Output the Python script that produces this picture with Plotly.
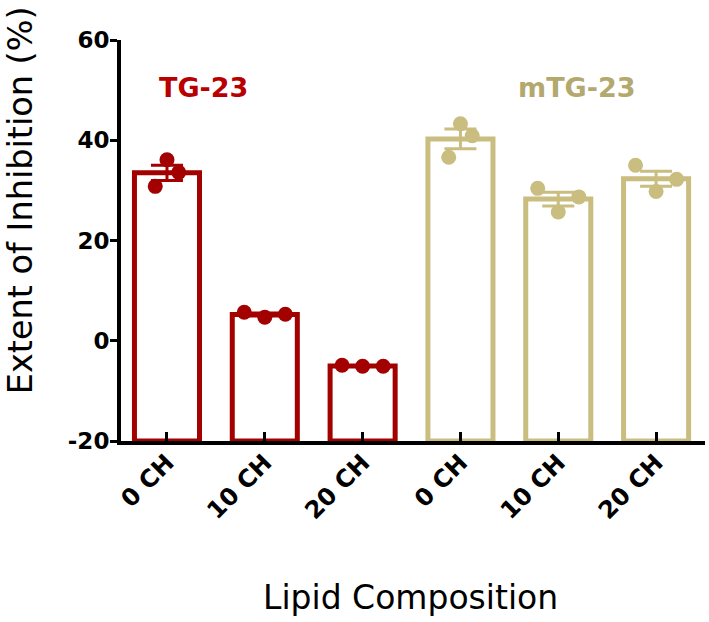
import numpy as np
import plotly.graph_objects as go

categories = ["0 CH", "10 CH", "20 CH", "0 CH", "10 CH", "20 CH"]
group_labels = ["TG-23", "mTG-23"]

# replicate values (%) per category, ordered left / middle / right as plotted
tg23_points = [[30.8, 36.1, 33.6], [5.7, 4.7, 5.3], [-4.9, -5.1, -5.1]]
mtg23_points = [[36.6, 43.3, 40.9], [30.4, 25.7, 28.7], [35.0, 29.8, 32.2]]

y_tickvals = [-20, 0, 20, 40, 60]
y_ticktext = ["-20", "0", "20", "40", "60"]

RED = "#A30000"
TAN = "#C9BD7F"
RED_TXT = "#B80000"
TAN_TXT = "#B3A86E"
point_spread = [0.12, 0.21, 0.21, 0.12, 0.21, 0.21]
BASE = -20

fig = go.Figure()

all_points = tg23_points + mtg23_points
colors = [RED] * 3 + [TAN] * 3

for i, (pts, col) in enumerate(zip(all_points, colors)):
    pts = np.array(pts)
    mean = pts.mean()
    sem = pts.std(ddof=1) / np.sqrt(len(pts))
    s = point_spread[i]
    fig.add_trace(go.Bar(
        x=[i], y=[mean - BASE], base=[BASE], width=0.665,
        marker=dict(color="white", line=dict(color=col, width=5)),
        showlegend=False,
    ))
    fig.add_trace(go.Scatter(
        x=[i - s, i, i + s], y=pts, mode="markers",
        marker=dict(color=col, size=15), showlegend=False,
    ))
    fig.add_trace(go.Scatter(
        x=[i], y=[mean], mode="markers",
        marker=dict(color=col, size=1, opacity=0),
        error_y=dict(type="data", array=[sem], color=col, thickness=3, width=16),
        showlegend=False,
    ))

fig.add_annotation(x=0.37, y=50.6, text="<b>" + group_labels[0] + "</b>", showarrow=False,
                   font=dict(family="DejaVu Sans", size=27, color=RED_TXT))
fig.add_annotation(x=4.19, y=50.6, text="<b>" + group_labels[1] + "</b>", showarrow=False,
                   font=dict(family="DejaVu Sans", size=27, color=TAN_TXT))

# axis titles
fig.add_annotation(xref="paper", yref="paper", x=-0.171, y=0.601, xanchor="center", yanchor="middle",
                   text="Extent of Inhibition (%)", textangle=-90, showarrow=False,
                   font=dict(family="DejaVu Sans", size=33.5, color="black"))
fig.add_annotation(xref="paper", yref="paper", x=0.495, y=-0.39, xanchor="center", yanchor="middle",
                   text="Lipid Composition", showarrow=False,
                   font=dict(family="DejaVu Sans", size=33, color="black"))

fig.update_layout(
    width=709, height=622,
    margin=dict(l=121, r=4, t=40, b=181),
    paper_bgcolor="white", plot_bgcolor="white",
    barmode="overlay",
    xaxis=dict(
        range=[-0.47, 5.5], tickvals=list(range(6)), ticktext=categories,
        tickangle=-45, ticks="inside", ticklen=9, tickwidth=3, tickcolor="black",
        showline=True, linecolor="black", linewidth=4, showgrid=False, zeroline=False,
        automargin=False, ticklabelstandoff=-6,
        tickfont=dict(family="DejaVu Sans", size=24, color="black", weight="bold"),
    ),
    yaxis=dict(
        range=[-20, 60], tickvals=y_tickvals, ticktext=y_ticktext,
        ticks="outside", ticklen=7, tickwidth=3, tickcolor="black",
        showline=True, linecolor="black", linewidth=4, showgrid=False, zeroline=False,
        automargin=False, ticklabelstandoff=-4,
        tickfont=dict(family="DejaVu Sans", size=23, color="black", weight="bold"),
    ),
)

fig.write_html("out.html", config={"displayModeBar": False},
               post_script="document.body.style.margin='0';")
